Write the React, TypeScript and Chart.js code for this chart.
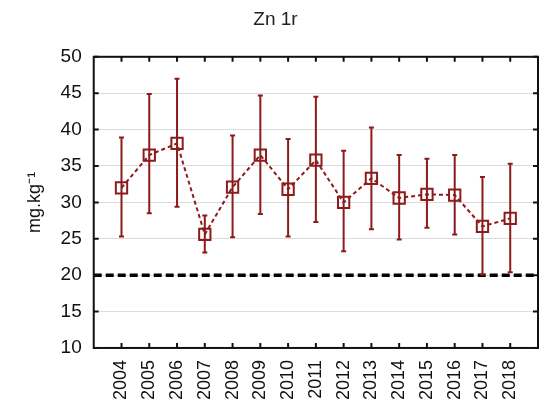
import React, { useEffect, useRef } from "react";
import { Chart, registerables } from "chart.js";

Chart.register(...registerables);

const years = [2004, 2005, 2006, 2007, 2008, 2009, 2010, 2011, 2012, 2013, 2014, 2015, 2016, 2017, 2018];
const means = [32.0, 36.5, 38.1, 25.6, 32.1, 36.5, 31.8, 35.8, 30.0, 33.3, 30.6, 31.1, 31.0, 26.7, 27.8];
const lows = [25.3, 28.5, 29.4, 23.1, 25.2, 28.4, 25.3, 27.3, 23.3, 26.3, 24.9, 26.5, 25.6, 20.1, 20.4];
const highs = [38.9, 44.9, 47.0, 28.2, 39.2, 44.7, 38.7, 44.5, 37.1, 40.3, 36.5, 36.0, 36.5, 33.5, 35.3];
const limitValue = 20;
const xRange = [2003, 2019];
const yRange = [10, 50];
const titleText = "Zn 1r";
const yTitle = "mg.kg\u207B\u00B9";

const RED = "#8e1b1b";
const FONT = "'Liberation Sans', Arial, sans-serif";

const errorBarPlugin = {
  id: "errorBars",
  afterDatasetsDraw(chart: any) {
    const { ctx, scales } = chart;
    const xs = scales.x;
    const ys = scales.y;
    ctx.save();
    ctx.strokeStyle = RED;
    ctx.lineWidth = 2;
    years.forEach((yr, i) => {
      const px = xs.getPixelForValue(yr);
      const top = ys.getPixelForValue(highs[i]);
      const bot = ys.getPixelForValue(lows[i]);
      ctx.beginPath();
      ctx.moveTo(px, top);
      ctx.lineTo(px, bot);
      ctx.moveTo(px - 2.5, top);
      ctx.lineTo(px + 2.5, top);
      ctx.moveTo(px - 2.5, bot);
      ctx.lineTo(px + 2.5, bot);
      ctx.stroke();
    });
    ctx.restore();
  },
};

const framePlugin = {
  id: "frame",
  afterDraw(chart: any) {
    const { ctx, chartArea, scales } = chart;
    const { left, right, top, bottom } = chartArea;
    ctx.save();
    ctx.strokeStyle = "#111";
    ctx.lineWidth = 2;
    ctx.beginPath();
    const len = 5;
    scales.x.ticks.forEach((t: any) => {
      const px = scales.x.getPixelForValue(t.value);
      ctx.moveTo(px, bottom);
      ctx.lineTo(px, bottom - len);
      ctx.moveTo(px, top);
      ctx.lineTo(px, top + len);
    });
    scales.y.ticks.forEach((t: any) => {
      const py = scales.y.getPixelForValue(t.value);
      ctx.moveTo(left, py);
      ctx.lineTo(left + len, py);
      ctx.moveTo(right, py);
      ctx.lineTo(right - len, py);
    });
    ctx.stroke();
    ctx.strokeRect(left, top, right - left, bottom - top);
    ctx.restore();
  },
};

export default function App() {
  const ref = useRef<HTMLCanvasElement>(null);
  useEffect(() => {
    if (!ref.current) return;
    const chart = new Chart(ref.current, {
      type: "line",
      data: {
        datasets: [
          {
            label: "limit",
            data: xRange.map((x) => ({ x, y: limitValue })),
            borderColor: "#000",
            borderWidth: 3.5,
            borderDash: [8, 4],
            pointRadius: 0,
            fill: false,
          },
          {
            label: "Zn",
            data: years.map((x, i) => ({ x, y: means[i] })),
            borderColor: RED,
            borderWidth: 2,
            borderDash: [4, 3],
            pointStyle: "rect",
            pointRadius: 8,
            pointBorderWidth: 2,
            pointBorderColor: RED,
            pointBackgroundColor: "rgba(0,0,0,0)",
            fill: false,
          },
        ],
      },
      options: {
        animation: false,
        responsive: false,
        layout: { padding: { right: 5, left: 0, top: 0, bottom: 0 } },
        plugins: {
          legend: { display: false },
          tooltip: { enabled: false },
          title: {
            display: true,
            text: titleText,
            color: "#222",
            font: { family: FONT, size: 19, weight: "normal" },
            padding: { top: 0, bottom: 26 },
          },
        },
        scales: {
          x: {
            type: "linear",
            min: xRange[0],
            max: xRange[1],
            afterBuildTicks: (scale: any) => {
              scale.ticks = scale.ticks.filter((t: any) => t.value >= years[0] && t.value <= years[years.length - 1]);
            },
            ticks: {
              stepSize: 1,
              autoSkip: false,
              maxRotation: 90,
              minRotation: 90,
              padding: 12,
              color: "#111",
              font: { family: FONT, size: 18 },
              callback: (v: any) => String(v),
            },
            grid: { display: false, drawTicks: false },
            border: { display: false },
          },
          y: {
            min: yRange[0],
            max: yRange[1],
            ticks: {
              stepSize: 5,
              padding: 12,
              color: "#111",
              font: { family: FONT, size: 19 },
            },
            grid: { color: "#dcdcdc", lineWidth: 1, drawTicks: false },
            border: { display: false },
            title: {
              display: true,
              text: yTitle,
              color: "#111",
              font: { family: FONT, size: 18 },
              padding: { top: 16, bottom: 3 },
            },
          },
        },
      },
      plugins: [errorBarPlugin, framePlugin],
    });
    return () => chart.destroy();
  }, []);
  return <canvas ref={ref} width={540} height={404} style={{ display: "block", marginBottom: -8 }} />;
}
